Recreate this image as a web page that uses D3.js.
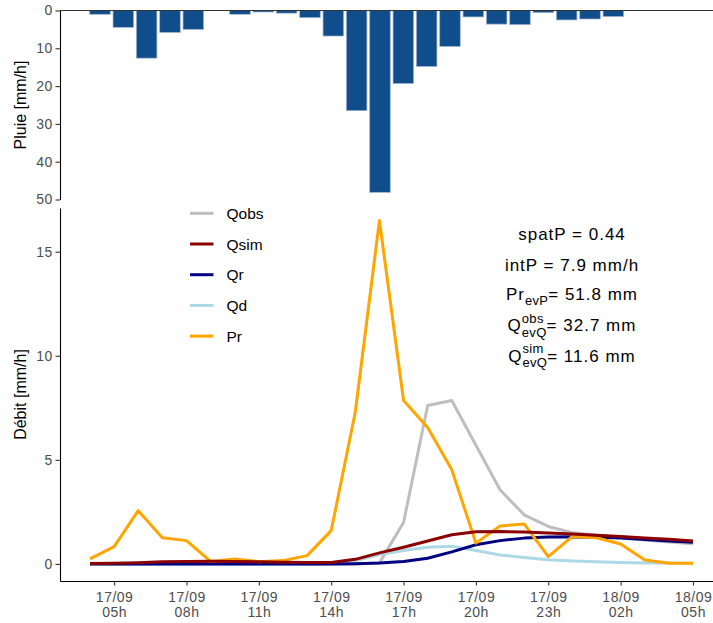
<!DOCTYPE html>
<html>
<head>
<meta charset="utf-8">
<script src="https://cdn.jsdelivr.net/npm/d3@7"></script>
<style>
  body { margin: 0; background: #fff; }
  text { font-family: "Liberation Sans", Arial, sans-serif; }
</style>
</head>
<body>
<div id="chart"></div>
<script>
// hourly rain (top panel)
var rainHours = [5, 6, 7, 8, 9, 10, 11, 12, 13, 14, 15, 16, 17, 18, 19, 20, 21, 22, 23, 24, 25, 26, 27];
var rain = [1.0, 4.45, 12.6, 5.8, 5.0, 0, 1.0, 0.4, 0.7, 1.9, 6.75, 26.5, 48.1, 19.3, 14.8, 9.5, 1.7, 3.6, 3.75, 0.55, 2.5, 2.25, 1.6];
var rainTicks = [0, 10, 20, 30, 40, 50];

// hourly discharge series (bottom panel), hours since 17/09 00h
var hours = [4, 5, 6, 7, 8, 9, 10, 11, 12, 13, 14, 15, 16, 17, 18, 19, 20, 21, 22, 23, 24, 25, 26, 27, 28, 29];
var qobs = [0, 0, 0, 0, 0, 0, 0, 0, 0, 0, 0, 0, 0.05, 1.99, 7.61, 7.85, 5.7, 3.56, 2.36, 1.8, 1.5, 1.38, 1.27, 1.15, 1.05, 0.97];
var qsim = [0.02, 0.03, 0.06, 0.1, 0.12, 0.13, 0.12, 0.1, 0.08, 0.07, 0.07, 0.22, 0.53, 0.8, 1.1, 1.4, 1.55, 1.56, 1.53, 1.49, 1.44, 1.38, 1.32, 1.25, 1.18, 1.1];
var qr = [0, 0, 0, 0, 0, 0, 0, 0, 0, 0, 0, 0.01, 0.04, 0.12, 0.27, 0.58, 0.92, 1.12, 1.24, 1.29, 1.3, 1.28, 1.24, 1.17, 1.1, 1.04];
var qd = [0, 0, 0, 0, 0, 0, 0, 0, 0, 0, 0.02, 0.15, 0.45, 0.65, 0.8, 0.85, 0.65, 0.43, 0.31, 0.2, 0.14, 0.1, 0.07, 0.05, 0.04, 0.03];
var pr = [0.24, 0.83, 2.56, 1.26, 1.12, 0.12, 0.24, 0.11, 0.16, 0.4, 1.6, 7.3, 16.5, 7.85, 6.55, 4.52, 1.0, 1.82, 1.92, 0.35, 1.32, 1.26, 0.96, 0.19, 0.03, 0.03];

var flowTicks = [0, 5, 10, 15];
var xTickHours = [5, 8, 11, 14, 17, 20, 23, 26, 29];
var xTickDays = ["17/09", "17/09", "17/09", "17/09", "17/09", "17/09", "17/09", "18/09", "18/09"];
var xTickTimes = ["05h", "08h", "11h", "14h", "17h", "20h", "23h", "02h", "05h"];

var seriesNames = ["Qobs", "Qsim", "Qr", "Qd", "Pr"];
var seriesColors = ["#BEBEBE", "#8B0000", "#000080", "#ADD8E6", "#FFA500"];

var width = 713, height = 623;

var svg = d3.select("#chart")
  .append("svg")
    .attr("width", width)
    .attr("height", height);

// ---------- top panel: rain ----------
var xTop = d3.scaleBand()
  .domain(rainHours)
  .range([88.3, 625])
  .paddingInner(0.12)
  .paddingOuter(0.06);

var yTop = d3.scaleLinear()
  .domain([0, 50])
  .range([10.5, 199.5]);

svg.selectAll("rect.rain")
  .data(rain)
  .enter()
  .append("rect")
    .attr("class", "rain")
    .attr("x", function(d, i) { return xTop(rainHours[i]); })
    .attr("y", yTop(0))
    .attr("width", xTop.bandwidth())
    .attr("height", function(d) { return yTop(d) - yTop(0); })
    .attr("fill", "#104E8B")
    .attr("stroke", "#9db3cf")
    .attr("stroke-width", 0.7);

svg.append("line")
  .attr("x1", 60).attr("x2", width)
  .attr("y1", 10.5).attr("y2", 10.5)
  .attr("stroke", "#333").attr("stroke-width", 1.1);

var yTopAxis = svg.append("g")
  .attr("transform", "translate(60,0)")
  .call(d3.axisLeft(yTop).tickValues(rainTicks).tickSize(4.5).tickSizeOuter(0));

// ---------- bottom panel: discharge ----------
var pxHour = 24.12;
var xBot = d3.scaleLinear()
  .domain([4 - 30 / pxHour, 29 + 30 / pxHour])
  .range([60, 723]);

var yBot = d3.scaleLinear()
  .domain([-0.82, 17.1])
  .range([581, 208]);

var yBotAxis = svg.append("g")
  .attr("transform", "translate(60,0)")
  .call(d3.axisLeft(yBot).tickValues(flowTicks).tickSize(4.5).tickSizeOuter(0));

var xBotAxis = svg.append("g")
  .attr("transform", "translate(0,581)")
  .call(d3.axisBottom(xBot).tickValues(xTickHours).tickSize(4.5).tickSizeOuter(0).tickFormat(""));

[yTopAxis, yBotAxis, xBotAxis].forEach(function(g) {
  g.select(".domain").attr("stroke", "#000").attr("stroke-width", 1.1);
  g.selectAll(".tick line").attr("stroke", "#333").attr("stroke-width", 1.1);
  g.selectAll(".tick text")
    .attr("fill", "#4D4D4D")
    .attr("font-size", "14px")
    .attr("letter-spacing", "0.3px");
});

// two-line tick labels
xBotAxis.selectAll(".tick").each(function(d, i) {
  var t = d3.select(this).select("text")
    .attr("y", null).attr("dy", null)
    .attr("letter-spacing", "0.5px");
  t.append("tspan").attr("x", 0).attr("y", 20.5).text(xTickDays[i]);
  t.append("tspan").attr("x", 0).attr("y", 36).text(xTickTimes[i]);
});

// axis titles
svg.append("text")
  .attr("transform", "translate(25.5," + ((10.5 + 199.5) / 2) + ") rotate(-90)")
  .attr("text-anchor", "middle")
  .attr("font-size", "16px")
  .text("Pluie [mm/h]");

svg.append("text")
  .attr("transform", "translate(25.5," + ((208 + 581) / 2) + ") rotate(-90)")
  .attr("text-anchor", "middle")
  .attr("font-size", "16px")
  .text("Débit [mm/h]");

// lines, drawn grey, light blue, navy, orange, dark red
var line = d3.line()
  .x(function(d, i) { return xBot(hours[i]); })
  .y(function(d) { return yBot(d); });

var drawOrder = [
  {values: qobs, color: seriesColors[0]},
  {values: qd, color: seriesColors[3]},
  {values: qr, color: seriesColors[2]},
  {values: pr, color: seriesColors[4]},
  {values: qsim, color: seriesColors[1]}
];

svg.selectAll("path.series")
  .data(drawOrder)
  .enter()
  .append("path")
    .attr("class", "series")
    .attr("d", function(d) { return line(d.values); })
    .attr("fill", "none")
    .attr("stroke", function(d) { return d.color; })
    .attr("stroke-width", 3)
    .attr("stroke-linejoin", "round");

// legend
var legend = svg.selectAll("g.legend")
  .data(seriesNames)
  .enter()
  .append("g")
    .attr("class", "legend")
    .attr("transform", function(d, i) { return "translate(190," + (213.3 + i * 30.7) + ")"; });

legend.append("line")
  .attr("x1", 0).attr("x2", 23.5)
  .attr("stroke", function(d, i) { return seriesColors[i]; })
  .attr("stroke-width", 3);

legend.append("text")
  .attr("x", 36.5)
  .attr("dy", "0.36em")
  .attr("font-size", "15.5px")
  .text(function(d) { return d; });

// annotation block
var annoX = 572, annoSize = 17, subSize = 13;
function annoLine(y) {
  return svg.append("text")
    .attr("x", annoX).attr("y", y)
    .attr("text-anchor", "middle")
    .attr("font-size", annoSize + "px")
    .attr("letter-spacing", "1px");
}

annoLine(239.5).text("spatP = 0.44");
annoLine(270.5).text("intP = 7.9 mm/h");

var l3 = annoLine(300);
l3.append("tspan").text("Pr");
l3.append("tspan").attr("font-size", subSize + "px").attr("letter-spacing", "0.3px").attr("dy", 5).text("evP");
l3.append("tspan").attr("dy", -5).text("= 51.8 mm");

function stacked(y, sup, sub, rest) {
  var t = annoLine(y);
  t.append("tspan").text("Q");
  var s1 = t.append("tspan").attr("font-size", subSize + "px").attr("letter-spacing", "0.3px").attr("dy", -8.5).text(sup);
  var w1 = s1.node().getComputedTextLength();
  var s2 = t.append("tspan").attr("font-size", subSize + "px").attr("letter-spacing", "0.3px").attr("dx", -w1).attr("dy", 14).text(sub);
  var w2 = s2.node().getComputedTextLength();
  t.append("tspan").attr("dx", Math.max(0, w1 - w2)).attr("dy", -5.5).text(rest);
}
stacked(331, "obs", "evQ", "= 32.7 mm");
stacked(361.5, "sim", "evQ", "= 11.6 mm");
</script>
</body>
</html>
